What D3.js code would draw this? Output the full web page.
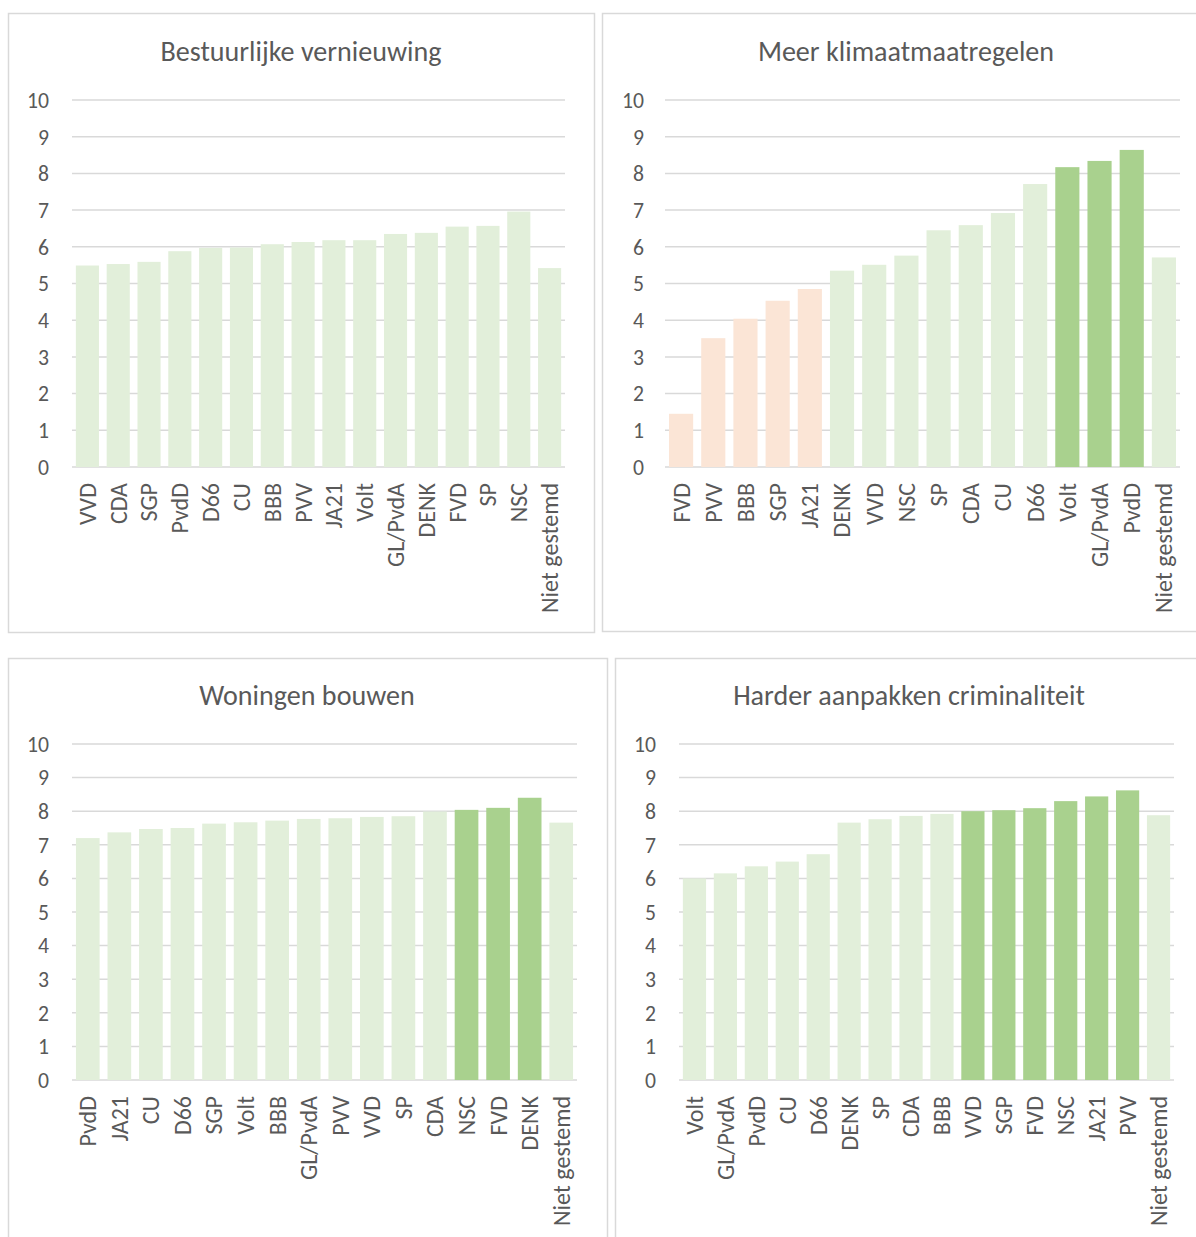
<!DOCTYPE html>
<html>
<head>
<meta charset="utf-8">
<script src="https://cdn.jsdelivr.net/npm/d3@7/dist/d3.min.js"></script>
<style>
  html, body { margin: 0; padding: 0; background: #ffffff; }
  svg { display: block; }
  text { font-family: Carlito, Calibri, Lato, "Noto Sans", sans-serif; fill: #595959; }
</style>
</head>
<body>
<svg id="chart" width="1196" height="1237"></svg>
<script>
// ---------- DATA ----------
const yTicks = [0, 1, 2, 3, 4, 5, 6, 7, 8, 9, 10];

const bestuurTitle = "Bestuurlijke vernieuwing";
const bestuurCats = ["VVD", "CDA", "SGP", "PvdD", "D66", "CU", "BBB", "PVV", "JA21", "Volt", "GL/PvdA", "DENK", "FVD", "SP", "NSC", "Niet gestemd"];
const bestuurVals = [5.49, 5.53, 5.59, 5.88, 5.97, 5.98, 6.07, 6.13, 6.18, 6.18, 6.35, 6.38, 6.55, 6.57, 6.96, 5.42];
const bestuurGroups = ["mid", "mid", "mid", "mid", "mid", "mid", "mid", "mid", "mid", "mid", "mid", "mid", "mid", "mid", "mid", "mid"];

const klimaatTitle = "Meer klimaatmaatregelen";
const klimaatCats = ["FVD", "PVV", "BBB", "SGP", "JA21", "DENK", "VVD", "NSC", "SP", "CDA", "CU", "D66", "Volt", "GL/PvdA", "PvdD", "Niet gestemd"];
const klimaatVals = [1.45, 3.51, 4.04, 4.53, 4.85, 5.35, 5.51, 5.76, 6.45, 6.59, 6.92, 7.71, 8.17, 8.34, 8.64, 5.71];
const klimaatGroups = ["low", "low", "low", "low", "low", "mid", "mid", "mid", "mid", "mid", "mid", "mid", "high", "high", "high", "mid"];

const woningTitle = "Woningen bouwen";
const woningCats = ["PvdD", "JA21", "CU", "D66", "SGP", "Volt", "BBB", "GL/PvdA", "PVV", "VVD", "SP", "CDA", "NSC", "FVD", "DENK", "Niet gestemd"];
const woningVals = [7.20, 7.37, 7.47, 7.50, 7.63, 7.67, 7.72, 7.77, 7.79, 7.83, 7.85, 7.99, 8.04, 8.10, 8.40, 7.66];
const woningGroups = ["mid", "mid", "mid", "mid", "mid", "mid", "mid", "mid", "mid", "mid", "mid", "mid", "high", "high", "high", "mid"];

const crimTitle = "Harder aanpakken criminaliteit";
const crimCats = ["Volt", "GL/PvdA", "PvdD", "CU", "D66", "DENK", "SP", "CDA", "BBB", "VVD", "SGP", "FVD", "NSC", "JA21", "PVV", "Niet gestemd"];
const crimVals = [6.00, 6.15, 6.36, 6.50, 6.72, 7.66, 7.76, 7.86, 7.92, 8.00, 8.03, 8.09, 8.30, 8.44, 8.62, 7.88];
const crimGroups = ["mid", "mid", "mid", "mid", "mid", "mid", "mid", "mid", "mid", "high", "high", "high", "high", "high", "high", "mid"];

// ---------- STYLE / LAYOUT ----------
const groupColor = { low: "#FBE5D6", mid: "#E2EFDA", high: "#A9D18E" };
const gridColor = "#D9D9D9";

const panels = [
  { title: bestuurTitle, cats: bestuurCats, vals: bestuurVals, groups: bestuurGroups,
    box: [8, 13, 594, 632], xr: [72, 565], yr: [467, 100], tickX: 49, titleX: 301, titleY: 51 },
  { title: klimaatTitle, cats: klimaatCats, vals: klimaatVals, groups: klimaatGroups,
    box: [602, 13, 1210, 631], xr: [665, 1180], yr: [467, 100], tickX: 644, titleX: 906, titleY: 51 },
  { title: woningTitle, cats: woningCats, vals: woningVals, groups: woningGroups,
    box: [8, 658, 607, 1250], xr: [72, 577], yr: [1080, 744], tickX: 49, titleX: 307, titleY: 695 },
  { title: crimTitle, cats: crimCats, vals: crimVals, groups: crimGroups,
    box: [615, 658, 1210, 1250], xr: [679, 1174], yr: [1080, 744], tickX: 656, titleX: 909, titleY: 695 }
];

const svg = d3.select("#chart");

// font fitting helper: scale font-size so that a reference string gets a target width
function fitSize(text, targetW, baseSize) {
  const t = svg.append("text").attr("font-size", baseSize).text(text);
  const w = t.node().getComputedTextLength();
  t.remove();
  return baseSize * targetW / w;
}
const titleSize = fitSize("Bestuurlijke vernieuwing", 281, 22);
const tickSize = fitSize("10", 22, 19);
const labelSize = fitSize("Niet gestemd", 130, 19);

panels.forEach(p => {
  const g = svg.append("g");
  const [bx0, by0, bx1, by1] = p.box;
  g.append("rect")
    .attr("x", bx0 + 0.5).attr("y", by0 + 0.5)
    .attr("width", bx1 - bx0).attr("height", by1 - by0)
    .attr("fill", "#fff").attr("stroke", gridColor).attr("stroke-width", 1.5);

  const x = d3.scaleBand().domain(p.cats).range(p.xr).paddingInner(0.25).paddingOuter(0.125);
  const y = d3.scaleLinear().domain([0, 10]).range(p.yr);

  // gridlines
  g.append("g").selectAll("line").data(yTicks).join("line")
    .attr("x1", p.xr[0]).attr("x2", p.xr[1])
    .attr("y1", d => y(d)).attr("y2", d => y(d))
    .attr("stroke", gridColor).attr("stroke-width", 1.5);

  // y tick labels
  g.append("g").selectAll("text").data(yTicks).join("text")
    .attr("x", p.tickX).attr("y", d => y(d)).attr("dy", "0.36em")
    .attr("text-anchor", "end").attr("font-size", tickSize)
    .text(d => d);

  // bars
  g.append("g").selectAll("rect").data(p.cats).join("rect")
    .attr("x", d => x(d)).attr("width", x.bandwidth())
    .attr("y", (d, i) => y(p.vals[i]))
    .attr("height", (d, i) => y(0) - y(p.vals[i]))
    .attr("fill", (d, i) => groupColor[p.groups[i]]);

  // category labels rotated
  g.append("g").selectAll("text").data(p.cats).join("text")
    .attr("transform", d => `translate(${x(d) + x.bandwidth() / 2},${y(0) + 16}) rotate(-90)`)
    .attr("dy", "0.35em")
    .attr("text-anchor", "end").attr("font-size", labelSize)
    .text(d => d);

  // title
  g.append("text")
    .attr("x", p.titleX).attr("y", p.titleY).attr("dy", "0.36em")
    .attr("text-anchor", "middle").attr("font-size", titleSize)
    .text(p.title);
});
</script>
</body>
</html>
